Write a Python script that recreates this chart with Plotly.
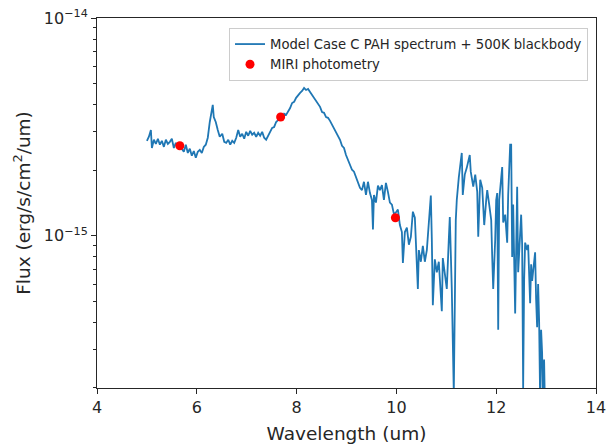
import plotly.graph_objects as go

# Model spectrum: wavelength (um) and flux (units of 1e-15 erg/s/cm^2/um)
wavelength = [
    5.00, 5.04, 5.08, 5.10, 5.14, 5.18, 5.22, 5.26, 5.30, 5.34, 5.38, 5.42, 5.46, 5.50, 5.54, 5.58,
    5.62, 5.66, 5.70, 5.74, 5.78, 5.82, 5.86, 5.90, 5.94, 5.98, 6.02, 6.06, 6.10, 6.14, 6.18, 6.22,
    6.26, 6.30, 6.32, 6.34, 6.38, 6.42, 6.46, 6.51, 6.55, 6.59, 6.63, 6.67, 6.71, 6.75, 6.79, 6.83,
    6.87, 6.91, 6.95, 6.99, 7.03, 7.07, 7.11, 7.15, 7.19, 7.23, 7.27, 7.31, 7.35, 7.39, 7.43, 7.47,
    7.51, 7.55, 7.59, 7.63, 7.67, 7.71, 7.75, 7.79, 7.83, 7.87, 7.91, 7.95, 7.99, 8.03, 8.07, 8.11,
    8.15, 8.19, 8.23, 8.27, 8.31, 8.35, 8.39, 8.43, 8.47, 8.51, 8.55, 8.59, 8.63, 8.67, 8.71, 8.75,
    8.79, 8.83, 8.87, 8.91, 8.95, 8.99, 9.03, 9.07, 9.11, 9.15, 9.19, 9.23, 9.27, 9.31, 9.35, 9.39,
    9.43, 9.47, 9.51, 9.53, 9.55, 9.59, 9.63, 9.67, 9.71, 9.75, 9.79, 9.83, 9.87, 9.91, 9.95, 9.99,
    10.03, 10.07, 10.11, 10.13, 10.17, 10.21, 10.25, 10.29, 10.33, 10.37, 10.41, 10.43, 10.45, 10.49,
    10.53, 10.57, 10.61, 10.65, 10.69, 10.71, 10.73, 10.77, 10.81, 10.85, 10.89, 10.91, 10.93, 10.97,
    11.01, 11.05, 11.07, 11.11, 11.15, 11.19, 11.21, 11.25, 11.29, 11.31, 11.33, 11.37, 11.41, 11.45,
    11.47, 11.49, 11.54, 11.58, 11.62, 11.64, 11.66, 11.68, 11.72, 11.76, 11.80, 11.82, 11.86, 11.90,
    11.92, 11.94, 11.98, 12.00, 12.02, 12.04, 12.06, 12.08, 12.12, 12.14, 12.18, 12.22, 12.24, 12.28,
    12.30, 12.32, 12.34, 12.38, 12.40, 12.42, 12.44, 12.48, 12.50, 12.52, 12.54, 12.56, 12.58, 12.62,
    12.64, 12.68, 12.70, 12.72, 12.76, 12.78, 12.80, 12.82, 12.84, 12.86, 12.88, 12.90, 12.92, 12.94,
    12.96, 12.98,
]
flux_e15 = [
    2.73, 2.85, 3.06, 2.53, 2.76, 2.64, 2.79, 2.62, 2.73, 2.56, 2.76, 2.64, 2.70, 2.79, 2.53, 2.67,
    2.59, 2.64, 2.51, 2.43, 2.62, 2.40, 2.51, 2.33, 2.45, 2.28, 2.43, 2.48, 2.40, 2.56, 2.62, 2.82,
    3.33, 3.91, 3.99, 3.51, 3.33, 3.06, 2.85, 2.94, 2.70, 2.67, 2.76, 2.62, 2.73, 2.67, 2.82, 3.06,
    2.85, 2.94, 2.79, 3.00, 2.88, 3.03, 2.91, 2.97, 2.85, 2.97, 2.88, 3.00, 2.82, 2.76, 2.88, 3.00,
    3.13, 3.16, 3.33, 3.40, 3.51, 3.48, 3.63, 3.59, 3.70, 3.86, 4.07, 4.12, 4.30, 4.43, 4.53, 4.62,
    4.77, 4.67, 4.72, 4.57, 4.43, 4.30, 4.21, 4.03, 3.91, 3.70, 3.67, 3.51, 3.48, 3.37, 3.23, 3.13,
    2.97, 2.85, 2.76, 2.59, 2.53, 2.35, 2.23, 2.12, 2.01, 1.97, 1.85, 1.77, 1.66, 1.62, 1.77, 1.54,
    1.77, 1.57, 1.46, 1.07, 1.54, 1.42, 1.70, 1.62, 1.71, 1.46, 1.75, 1.59, 1.42, 1.39, 1.26, 1.28,
    1.32, 1.12, 1.04, 0.75, 1.04, 1.09, 0.91, 0.99, 1.29, 1.21, 0.79, 0.57, 0.86, 0.76,
    0.90, 0.76, 0.86, 1.16, 1.53, 0.96, 0.48, 0.78, 0.68, 0.76, 0.51, 0.45, 0.79, 0.68,
    0.57, 0.96, 1.22, 0.57, 0.19, 1.18, 1.46, 1.85, 2.23, 2.40, 1.54, 1.91, 2.05, 2.23,
    2.35, 1.97, 1.68, 1.91, 1.59, 0.99, 1.46, 1.81, 1.66, 1.12, 1.46, 1.62, 1.39, 1.18,
    0.80, 0.57, 0.96, 1.46, 1.57, 0.37, 1.46, 1.68, 2.07, 1.15, 1.25, 0.93, 1.54, 2.62,
    2.62, 0.80, 1.39, 0.44, 1.07, 1.68, 0.68, 1.07, 1.25, 0.91, 0.20, 0.63, 0.93, 0.86,
    0.91, 0.49, 0.74, 0.62, 0.76, 0.84, 0.51, 0.38, 0.60, 0.41, 0.18, 0.37, 0.29, 0.15,
    0.27, 0.15,
]

# MIRI photometry points
phot_wavelength = [5.66, 7.68, 9.98]
phot_flux_e15 = [2.59, 3.51, 1.21]

x_ticks = [4, 6, 8, 10, 12, 14]
y_major = [1e-15, 1e-14]
y_major_text = ["10<sup>−15</sup>", "10<sup>−14</sup>"]
y_minor = [2e-16, 3e-16, 4e-16, 5e-16, 6e-16, 7e-16, 8e-16, 9e-16,
           2e-15, 3e-15, 4e-15, 5e-15, 6e-15, 7e-15, 8e-15, 9e-15]

flux = [v * 1e-15 for v in flux_e15]
phot_flux = [v * 1e-15 for v in phot_flux_e15]

TXT = "#262626"
FONT = "DejaVu Sans"

fig = go.Figure()
fig.add_trace(go.Scatter(
    x=wavelength, y=flux, mode="lines",
    line=dict(color="#1f77b4", width=1.8),
    name="Model Case C PAH spectrum + 500K blackbody",
))
fig.add_trace(go.Scatter(
    x=phot_wavelength, y=phot_flux, mode="markers",
    marker=dict(color="#ff0000", size=9, line=dict(width=0)),
    name="MIRI photometry",
))

fig.update_layout(
    width=606, height=445,
    margin=dict(l=97, r=10, t=18, b=57),
    paper_bgcolor="white", plot_bgcolor="white",
    font=dict(family=FONT, color=TXT, size=15),
    showlegend=True,
    legend=dict(
        x=0.984, y=0.973, xanchor="right", yanchor="top",
        bgcolor="rgba(255,255,255,0.9)", bordercolor="#cccccc", borderwidth=1,
        font=dict(family=FONT, size=13.2, color=TXT),
        tracegroupgap=2,
    ),
    xaxis=dict(
        range=[4, 14], tickvals=x_ticks, ticktext=[str(v) for v in x_ticks],
        ticks="outside", ticklen=5, tickcolor=TXT, tickwidth=1,
        showline=True, linecolor=TXT, linewidth=1, mirror=True,
        showgrid=False, zeroline=False, automargin=False,
        ticklabeloverflow="allow",
        tickfont=dict(size=16),
        title=dict(text="Wavelength (um)", font=dict(size=18.5), standoff=10),
    ),
    yaxis=dict(
        type="log", range=[-15.699, -14],
        tickvals=y_major, ticktext=y_major_text,
        ticks="outside", ticklen=5, tickcolor=TXT, tickwidth=1,
        minor=dict(tickvals=y_minor, ticks="outside", ticklen=3, tickcolor=TXT, showgrid=False),
        showline=True, linecolor=TXT, linewidth=1, mirror=True,
        showgrid=False, zeroline=False, automargin=False,
        ticklabeloverflow="allow",
        tickfont=dict(size=16),
        title=dict(text="Flux (erg/s/cm<sup>2</sup>/um)", font=dict(size=18.5), standoff=8),
    ),
)

fig.write_html(
    "out.html",
    config={"displayModeBar": False},
    post_script="document.body.style.margin='0px';document.body.style.overflow='hidden';",
)
